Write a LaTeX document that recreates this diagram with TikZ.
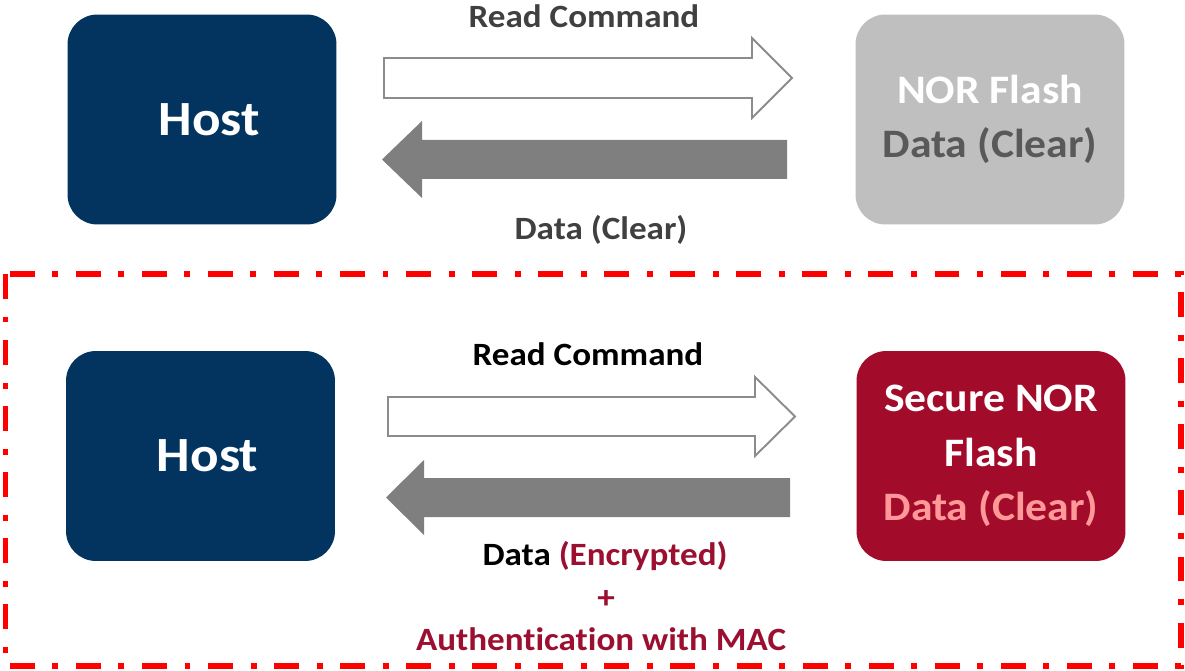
\documentclass[tikz,border=0pt]{standalone}
\usepackage{fontspec}
\setmainfont{Carlito}[FakeStretch=1.08, Ligatures=NoCommon]
\usepackage{tikz}

\definecolor{hostblue}{HTML}{02345F}
\definecolor{norgray}{HTML}{BFBFBF}
\definecolor{darktext}{HTML}{595959}
\definecolor{labelgray}{HTML}{404040}
\definecolor{arrowgray}{HTML}{7F7F7F}
\definecolor{edgegray}{HTML}{8C8C8C}
\definecolor{securered}{HTML}{A20C2A}
\definecolor{maroontext}{HTML}{9B1030}
\definecolor{pinktext}{HTML}{FF9999}

\begin{document}
\begin{tikzpicture}[x=0.02cm, y=-0.02cm,
        box/.style={rectangle, rounded corners=17pt, inner sep=0pt, minimum width=5.38cm, minimum height=4.2cm, align=center},
        hostbox/.style={box, fill=hostblue, text=white, font=\fontsize{28}{34}\selectfont\bfseries},
        flashbox/.style={box, font=\fontsize{23}{31}\selectfont\bfseries},
        lbl/.style={anchor=base, font=\fontsize{18.5}{22}\selectfont\bfseries},
        cmdarrow/.style={draw=edgegray, line width=1.1pt, fill=white},
        dataarrow/.style={fill=arrowgray},
        secureframe/.style={draw=red, line width=3.4pt, dash pattern=on 14.2pt off 10pt on 3.4pt off 10pt}]

        \useasboundingbox (0,0) rectangle (1185,671);

        % Nodes
        \node (host1) at (202,119.5) [hostbox] {\hspace*{8pt}Host};
        \node (nor1) at (990,119.5) [flashbox, fill=norgray] {\textcolor{white}{NOR Flash}\\\textcolor{darktext}{Data (Clear)}};
        \node (host2) at (200.5,456) [hostbox] {\hspace*{8pt}Host};
        \node (nor2) at (991,456) [flashbox, fill=securered, text=white] {Secure NOR\\Flash\\\textcolor{pinktext}{Data (Clear)}};

        % Arrows
        \draw[cmdarrow] (384,58) -- (752,58) -- (752,38) -- (792,78) -- (752,118) -- (752,98) -- (384,98) -- cycle;
        \fill[dataarrow] (787,140) -- (422,140) -- (422,121) -- (382,159.5) -- (422,198) -- (422,179) -- (787,179) -- cycle;
        \draw[cmdarrow] (388,397) -- (755,397) -- (755,377) -- (795,416.5) -- (755,456) -- (755,436) -- (388,436) -- cycle;
        \fill[dataarrow] (790,478) -- (424,478) -- (424,460) -- (386,497.5) -- (424,535) -- (424,517) -- (790,517) -- cycle;

        % Labels
        \node (cmd1) at (584,28) [lbl, text=labelgray] {Read Command};
        \node (data1) at (601,240) [lbl, text=labelgray] {Data (Clear)};
        \node (cmd2) at (588,366) [lbl] {Read Command};
        \node (data2) at (605,565) [lbl] {Data \textcolor{maroontext}{(Encrypted)}};
        \node (plus) at (606,608) [lbl, text=maroontext] {+};
        \node (mac) at (601,650) [lbl, text=maroontext] {Authentication with MAC};

        % Secure part
        \draw[secureframe] (5.5,274) rectangle (1180.5,666);
\end{tikzpicture}
\end{document}
